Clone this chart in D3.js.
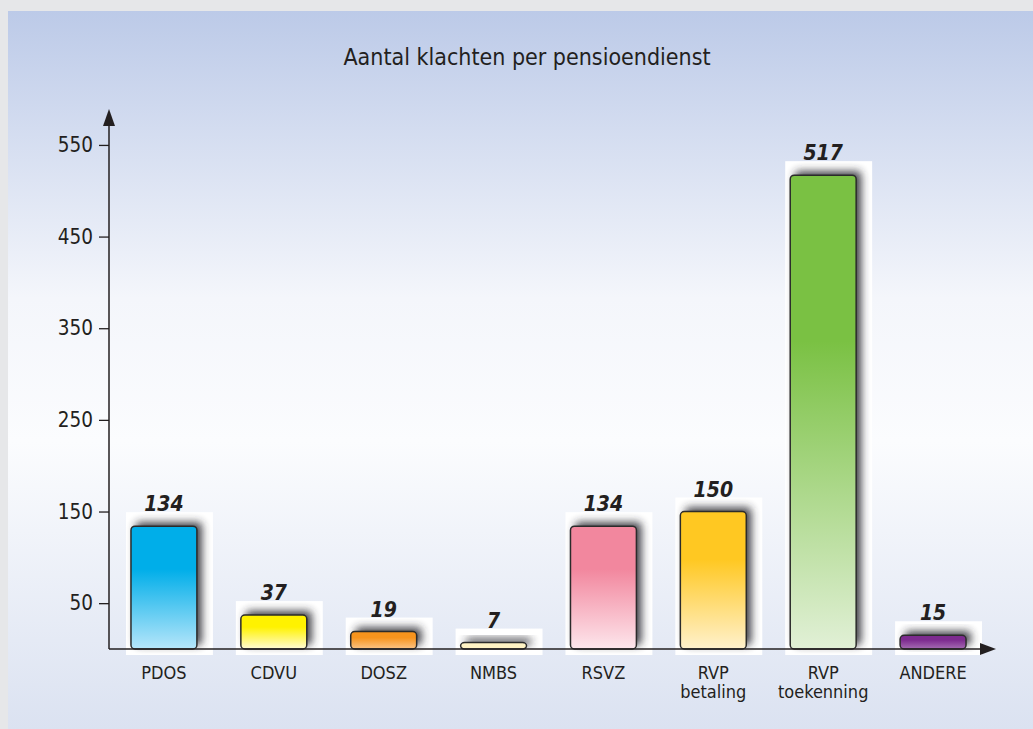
<!DOCTYPE html>
<html>
<head>
<meta charset="utf-8">
<script src="https://cdn.jsdelivr.net/npm/d3@7"></script>
<style>
  html, body { margin: 0; padding: 0; background: #e6e7e9; }
  svg { display: block; }
  text { font-family: "DejaVu Sans Condensed", "Liberation Sans Narrow", sans-serif; font-stretch: condensed; fill: #231f20; }
</style>
</head>
<body>
<div id="chart"></div>
<script>
// data
const categories = ["PDOS", "CDVU", "DOSZ", "NMBS", "RSVZ", "RVP\nbetaling", "RVP\ntoekenning", "ANDERE"];
const values = [134, 37, 19, 7, 134, 150, 517, 15];
const yTicks = [50, 150, 250, 350, 450, 550];
const topColors = ["#00aee9", "#fff200", "#f7941d", "#fff3c4", "#f2879e", "#ffc822", "#7ac143", "#7d2b8f"];
const bottomColors = ["#b6e6fa", "#fffbd6", "#fbc487", "#fff3c4", "#fde6ec", "#fff1cc", "#e1f0d6", "#a66db3"];
const title = "Aantal klachten per pensioendienst";

const width = 1033, height = 729;

const svg = d3.select("#chart").append("svg")
    .attr("width", width)
    .attr("height", height);

const defs = svg.append("defs");

// panel background gradient
const bg = defs.append("linearGradient")
    .attr("id", "panelGrad")
    .attr("x1", 0).attr("y1", 0).attr("x2", 0).attr("y2", 1);
bg.append("stop").attr("offset", "0%").attr("stop-color", "#bccae8");
bg.append("stop").attr("offset", "40%").attr("stop-color", "#f4f6fb");
bg.append("stop").attr("offset", "60%").attr("stop-color", "#fbfcfe");
bg.append("stop").attr("offset", "100%").attr("stop-color", "#dbe2f1");

svg.append("rect")
    .attr("x", 8).attr("y", 11)
    .attr("width", width - 8).attr("height", height - 11)
    .attr("fill", "url(#panelGrad)");

// bar gradients
values.forEach((v, i) => {
    const g = defs.append("linearGradient")
        .attr("id", "barGrad" + i)
        .attr("x1", 0).attr("y1", 0).attr("x2", 0).attr("y2", 1);
    g.append("stop").attr("offset", "0%").attr("stop-color", topColors[i]);
    g.append("stop").attr("offset", "35%").attr("stop-color", topColors[i]);
    g.append("stop").attr("offset", "100%").attr("stop-color", bottomColors[i]);
});

defs.append("filter")
    .attr("id", "blur")
    .attr("x", "-50%").attr("y", "-50%").attr("width", "200%").attr("height", "200%")
    .append("feGaussianBlur").attr("stdDeviation", 4);

// scales
const x0 = 109, baseY = 649;
const x = d3.scaleBand()
    .domain(categories)
    .range([x0, 988])
    .paddingInner(0.4)
    .paddingOuter(0.2);

const y = d3.scaleLinear()
    .domain([0, 600])
    .range([baseY, baseY - 0.9165 * 600]);

// title
svg.append("text")
    .attr("x", 527).attr("y", 65)
    .attr("text-anchor", "middle")
    .attr("font-size", 23)
    .attr("font-weight", 500)
    .text(title);

// bars
const bars = svg.append("g").selectAll("g")
    .data(values)
    .enter().append("g");

bars.each(function(d, i) {
    const g = d3.select(this);
    const bx = x(categories[i]), bw = x.bandwidth();
    const top = y(d);
    const clipId = "clip" + i;
    defs.append("clipPath").attr("id", clipId)
        .append("rect")
        .attr("x", bx - 5).attr("y", top - 14)
        .attr("width", bw + 21).attr("height", baseY - top + 20);

    // white backdrop
    g.append("rect")
        .attr("x", bx - 5).attr("y", top - 14)
        .attr("width", bw + 21).attr("height", baseY - top + 20)
        .attr("fill", "#ffffff");

    // soft shadow
    g.append("g").attr("clip-path", "url(#" + clipId + ")")
        .append("rect")
        .attr("x", bx + 5).attr("y", top - 4)
        .attr("width", bw).attr("height", baseY - top)
        .attr("rx", 4)
        .attr("fill", "#2a2a30")
        .attr("opacity", 0.9)
        .attr("filter", "url(#blur)");

    g.append("rect")
        .attr("x", bx).attr("y", top)
        .attr("width", bw).attr("height", baseY - top)
        .attr("rx", 4)
        .attr("fill", "url(#barGrad" + i + ")")
        .attr("stroke", "#2b2b2b")
        .attr("stroke-width", 1.5);

    g.append("text")
        .attr("x", bx + bw / 2)
        .attr("y", top - 15)
        .attr("text-anchor", "middle")
        .attr("font-size", 21)
        .attr("font-weight", "bold")
        .attr("font-style", "italic")
        .text(d);
});

// axes lines + arrows
const axis = svg.append("g").attr("stroke", "#231f20");
axis.append("line")
    .attr("x1", x0).attr("x2", x0)
    .attr("y1", baseY).attr("y2", 120)
    .attr("stroke-width", 1.5);
axis.append("line")
    .attr("x1", x0).attr("x2", 985)
    .attr("y1", baseY).attr("y2", baseY)
    .attr("stroke-width", 1.5);
svg.append("path")
    .attr("d", `M${x0},109 L${x0 + 6},126 L${x0 - 6},126 Z`)
    .attr("fill", "#231f20");
svg.append("path")
    .attr("d", `M996,${baseY} L980,${baseY - 6} L980,${baseY + 6} Z`)
    .attr("fill", "#231f20");

const yAxis = svg.append("g")
    .attr("transform", `translate(${x0},0)`)
    .call(d3.axisLeft(y).tickValues(yTicks).tickSize(10).tickPadding(6));
yAxis.attr("font-family", null).attr("font-size", null);
yAxis.select(".domain").remove();
yAxis.selectAll("line").attr("stroke", "#231f20").attr("stroke-width", 1.3);
yAxis.selectAll("text")
    .attr("font-size", 20.5)
    .attr("fill", "#231f20");

// category labels
const labels = svg.append("g").selectAll("text")
    .data(categories)
    .enter().append("text")
    .attr("x", d => x(d) + x.bandwidth() / 2)
    .attr("y", 679)
    .attr("text-anchor", "middle")
    .attr("font-size", 18);

labels.each(function(d) {
    const t = d3.select(this);
    d.split("\n").forEach((line, k) => {
        t.append("tspan")
            .attr("x", x(d) + x.bandwidth() / 2)
            .attr("dy", k === 0 ? 0 : 19)
            .text(line);
    });
});
</script>
</body>
</html>
